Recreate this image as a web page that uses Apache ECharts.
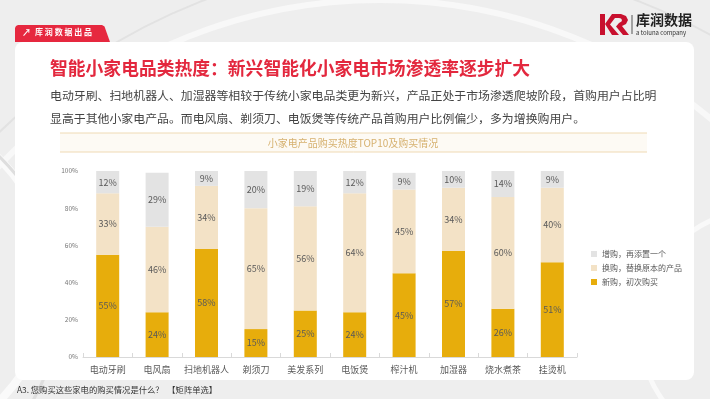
<!DOCTYPE html>
<html>
<head>
<meta charset="utf-8">
<script src="https://cdn.jsdelivr.net/npm/echarts@6/dist/echarts.min.js"></script>
<style>
  html, body { margin: 0; padding: 0; background: #efefef; }
  #chart { width: 710px; height: 399px; }
</style>
</head>
<body>
<div id="chart"></div>
<script>
const categories = ["电动牙刷", "电风扇", "扫地机器人", "剃须刀", "美发系列", "电饭煲", "榨汁机", "加湿器", "烧水煮茶", "挂烫机"];
const newBuy = [55, 24, 58, 15, 25, 24, 45, 57, 26, 51];
const replaceBuy = [33, 46, 34, 65, 56, 64, 45, 34, 60, 40];
const addBuy = [12, 29, 9, 20, 19, 12, 9, 10, 14, 9];
const seriesNames = ["新购，初次购买", "换购，替换原本的产品", "增购，再添置一个"];
const yTicks = [0, 20, 40, 60, 80, 100];

const FONT = "Noto Sans CJK SC";
const chart = echarts.init(document.getElementById("chart"), null, { renderer: "canvas" });

const labelStyle = {
  show: true,
  position: "inside",
  color: "#595959",
  fontSize: 9,
  fontFamily: FONT,
  formatter: (p) => p.value + "%",
};

// background decoration + card + headings
const graphics = [
  { type: "rect", shape: { x: 0, y: 0, width: 710, height: 399 }, style: { fill: "#eeeeee" }, z: -20 },
  { type: "circle", shape: { cx: 380, cy: 520, r: 520 }, style: { fill: "none", stroke: "#f8f8f8", lineWidth: 6 }, z: -19 },
  { type: "circle", shape: { cx: 420, cy: 560, r: 600 }, style: { fill: "none", stroke: "#e2e2e2", lineWidth: 2 }, z: -19 },
  { type: "circle", shape: { cx: -120, cy: 280, r: 170 }, style: { fill: "none", stroke: "#fafafa", lineWidth: 8 }, z: -19 },
  { type: "circle", shape: { cx: -140, cy: 300, r: 200 }, style: { fill: "none", stroke: "#dedede", lineWidth: 3 }, z: -19 },
  { type: "circle", shape: { cx: 760, cy: 330, r: 120 }, style: { fill: "none", stroke: "#f9f9f9", lineWidth: 5 }, z: -19 },
  {
    type: "polygon", z: -15,
    shape: { points: [[15, 42], [15, 28], [16, 26], [18, 25], [102, 25], [104.5, 26.5], [110, 42]] },
    style: { fill: "#e6283f" },
  },
  { type: "text", left: 22, top: 28, z: -14, style: { text: "↗", fill: "#fff", font: "bold 9px " + FONT } },
  { type: "text", left: 35, top: 28, z: -14, style: { text: "库 润 数 据 出 品", fill: "#fff", font: "bold 8px " + FONT } },
  { type: "rect", z: -12, shape: { x: 15, y: 42, width: 679, height: 338, r: 8 }, style: { fill: "#ffffff" } },
  {
    type: "text", left: 50, top: 59, z: -10,
    style: { text: "智能小家电品类热度：新兴智能化小家电市场渗透率逐步扩大", fill: "#e3283e", font: "bold 17.8px " + FONT },
  },
  {
    type: "text", left: 50, top: 84, z: -10,
    style: {
      text: "电动牙刷、扫地机器人、加湿器等相较于传统小家电品类更为新兴，产品正处于市场渗透爬坡阶段，首购用户占比明\n显高于其他小家电产品。而电风扇、剃须刀、电饭煲等传统产品首购用户比例偏少，多为增换购用户。",
      fill: "#444444", font: "11.9px " + FONT, lineHeight: 23,
    },
  },
  { type: "rect", z: -10, shape: { x: 60, y: 133, width: 587, height: 19 }, style: { fill: "#fdfaf4" } },
  { type: "line", z: -9, shape: { x1: 60, y1: 133, x2: 647, y2: 133 }, style: { stroke: "#efdab4", lineWidth: 1 } },
  { type: "line", z: -9, shape: { x1: 60, y1: 152, x2: 647, y2: 152 }, style: { stroke: "#efdab4", lineWidth: 1 } },
  {
    type: "text", z: -9, x: 353, y: 143,
    style: { text: "小家电产品购买热度TOP10及购买情况", fill: "#d6b16f", font: "10px " + FONT, align: "center", verticalAlign: "middle" },
  },
  {
    type: "text", left: 17, top: 386, z: -10,
    style: { text: "A3. 您购买这些家电的购买情况是什么？  【矩阵单选】", fill: "#333333", font: "8.3px " + FONT },
  },
  // logo
  { type: "rect", z: -10, shape: { x: 600, y: 14, width: 5, height: 21 }, style: { fill: "#c8102e" } },
  { type: "polygon", z: -10, shape: { points: [[605, 24], [612, 14], [618, 14], [610, 24.5], [619, 35], [612, 35]] }, style: { fill: "#c8102e" } },
  { type: "polygon", z: -10, shape: { points: [[614, 14], [621, 14], [626, 16], [628, 20], [626, 24], [622, 26], [629, 35], [623, 35], [616, 26.5], [619, 23], [621.5, 21.5], [622, 20], [621, 18.5], [619, 18], [614, 18]] }, style: { fill: "#c8102e" } },
  { type: "line", z: -10, shape: { x1: 632, y1: 15, x2: 632, y2: 34 }, style: { stroke: "#555", lineWidth: 1 } },
  { type: "text", left: 636, top: 13, z: -10, style: { text: "库润数据", fill: "#222", font: "bold 14px " + FONT } },
  { type: "text", left: 636, top: 30, z: -10, style: { text: "a toluna company", fill: "#333", font: "6px " + FONT } },
];

const option = {
  animation: false,
  textStyle: { fontFamily: FONT },
  graphic: graphics,
  grid: { left: 83, right: 133, top: 171, bottom: 42 },
  legend: {
    orient: "vertical",
    left: 586,
    top: 245,
    itemWidth: 6,
    itemHeight: 6,
    itemGap: 6,
    icon: "rect",
    data: [seriesNames[2], seriesNames[1], seriesNames[0]],
    textStyle: { fontSize: 8, color: "#595959", fontFamily: FONT },
  },
  xAxis: {
    type: "category",
    data: categories,
    axisLine: { lineStyle: { color: "#d9d9d9" } },
    axisTick: { show: true, inside: true, length: 4, lineStyle: { color: "#d9d9d9" } },
    axisLabel: { color: "#595959", fontSize: 9, margin: 8, interval: 0 },
  },
  yAxis: {
    type: "value",
    min: yTicks[0],
    max: yTicks[yTicks.length - 1],
    interval: 20,
    axisLine: { show: false },
    axisTick: { show: false },
    splitLine: { show: false },
    axisLabel: { color: "#777", fontSize: 6.5, formatter: (v) => v + "%", margin: 5 },
  },
  series: [
    { name: seriesNames[0], type: "bar", stack: "t", data: newBuy, barWidth: 23, itemStyle: { color: "#e7ad0c" }, label: labelStyle },
    { name: seriesNames[1], type: "bar", stack: "t", data: replaceBuy, barWidth: 23, itemStyle: { color: "#f3e2c6" }, label: labelStyle },
    { name: seriesNames[2], type: "bar", stack: "t", data: addBuy, barWidth: 23, itemStyle: { color: "#e3e3e3" }, label: labelStyle },
  ],
};

chart.setOption(option);
window.addEventListener("resize", () => chart.resize());
</script>
</body>
</html>
